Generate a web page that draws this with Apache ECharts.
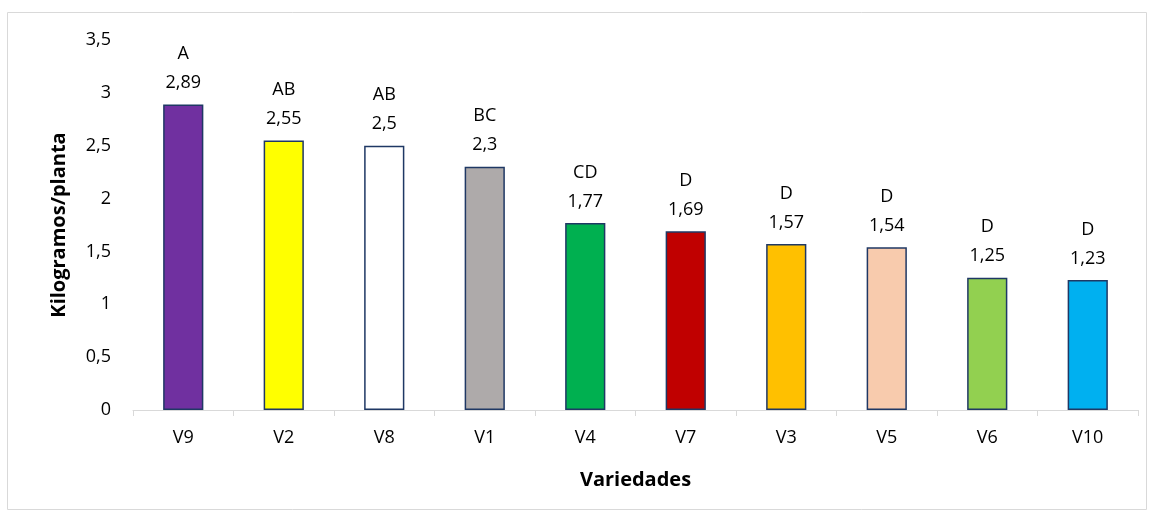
<!DOCTYPE html>
<html><head><meta charset="utf-8">
<script src="https://cdn.jsdelivr.net/npm/echarts@6/dist/echarts.min.js"></script>
<style>html,body{margin:0;padding:0;background:#fff}#c{width:1154px;height:520px}</style>
</head><body><div id="c"></div>
<script>
const categories = ['V9','V2','V8','V1','V4','V7','V3','V5','V6','V10'];
const values = [2.89,2.55,2.5,2.3,1.77,1.69,1.57,1.54,1.25,1.23];
const letters = ['A','AB','AB','BC','CD','D','D','D','D','D'];
const colors = ['#7030A0','#FFFF00','#FFFFFF','#AEAAAA','#00B050','#C00000','#FFC000','#F8CBAD','#92D050','#00B0F0'];
const fmt = v => String(v).replace('.', ',');
const font = '"Open Sans", "Noto Sans", sans-serif';
const chart = echarts.init(document.getElementById('c'));
chart.setOption({
  animation:false,
  graphic:[{type:'rect',shape:{x:7.5,y:12.5,width:1139,height:497},style:{fill:'none',stroke:'#d9d9d9',lineWidth:1},silent:true}],
  grid:{left:133,right:16,top:40,bottom:110,containLabel:false},
  xAxis:{type:'category',data:categories,
    axisLine:{lineStyle:{color:'#d9d9d9',width:1}},
    axisTick:{show:true,alignWithLabel:false,length:6,lineStyle:{color:'#d9d9d9'}},
    axisLabel:{color:'#000',fontSize:18,fontFamily:font,margin:19},
    name:'Variedades',nameLocation:'middle',nameGap:60,
    nameTextStyle:{color:'#000',fontSize:20,fontWeight:'bold',fontFamily:font}},
  yAxis:{type:'value',min:0,max:3.5,interval:0.5,
    splitLine:{show:false},axisLine:{show:false},axisTick:{show:false},
    axisLabel:{color:'#000',fontSize:18,fontFamily:font,margin:22,formatter:v=>fmt(v)},
    name:'Kilogramos/planta',nameLocation:'middle',nameGap:64,
    nameTextStyle:{color:'#000',fontSize:20,fontWeight:'bold',fontFamily:font}},
  series:[{type:'bar',barWidth:'40%',
    data:values.map((v,i)=>({value:v,itemStyle:{color:colors[i]}})),
    itemStyle:{borderColor:'#1F3864',borderWidth:1.5},
    label:{show:true,position:'top',distance:7,color:'#000',fontSize:18,fontFamily:font,lineHeight:29,
      formatter:p=>letters[p.dataIndex]+'\n'+fmt(p.value)}}]
});
</script></body></html>
